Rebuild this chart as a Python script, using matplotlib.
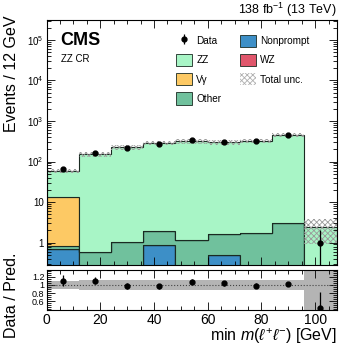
import numpy as np
import matplotlib
matplotlib.use("Agg")
import matplotlib.pyplot as plt
from matplotlib.patches import Patch
from matplotlib.ticker import MultipleLocator, LogLocator, NullFormatter

plt.rcParams["font.family"] = ["Liberation Sans", "DejaVu Sans"]
plt.rcParams["mathtext.fontset"] = "custom"
plt.rcParams["mathtext.rm"] = "Liberation Sans"
plt.rcParams["mathtext.it"] = "Liberation Sans:italic"
plt.rcParams["hatch.linewidth"] = 0.6

# binning (GeV)
edges = np.arange(0, 109, 12)

# observed events per bin
data = np.array([65, 165, 215, 275, 340, 308, 315, 460, 1])
data_err_up = np.array([8.6, 13.4, 15.2, 17.1, 19.0, 18.1, 18.3, 22.0, 1.0])
data_err_dn = np.array([8.1, 12.8, 14.6, 16.6, 18.4, 17.5, 17.7, 21.4, 1.0])

# predicted backgrounds (stacked, bottom to top)
nonprompt = np.array([0.68, 0, 0, 0.85, 0, 0.48, 0, 0, 0])
wz = np.array([0, 0, 0, 0, 0, 0, 0, 0, 0])
other = np.array([0.14, 0.57, 1.05, 1.07, 1.15, 1.12, 1.69, 2.98, 0])
vgamma = np.array([12.2, 0, 0, 0, 0, 0, 0, 0, 0])
zz = np.array([46, 149, 221, 281, 314, 294, 319, 444, 2.4])

# relative total uncertainty
rel_unc = np.array([0.11, 0.12, 0.12, 0.12, 0.12, 0.12, 0.12, 0.12, 0.62])

# ratio data/pred. and errors
ratio_vals = np.array([1.10, 1.10, 0.97, 0.97, 1.08, 1.04, 0.98, 1.03, 0.42])
ratio_err_up = np.array([0.14, 0.09, 0.07, 0.06, 0.06, 0.06, 0.06, 0.05, 0.40])
ratio_err_dn = np.array([0.13, 0.08, 0.07, 0.06, 0.06, 0.06, 0.06, 0.05, 0.02])

col_zz = "#a8f5c6"
col_vg = "#fdc964"
col_other = "#70c19d"
col_np = "#3d8fc7"
col_wz = "#e0566b"
edge = "#1a2a22"

centers = 0.5 * (edges[:-1] + edges[1:])

fig = plt.figure(figsize=(3.49, 3.52), dpi=100)
ax = fig.add_axes([0.1335, 0.2472, 0.8310, 0.6960])
rax = fig.add_axes([0.1335, 0.1190, 0.8310, 0.1140])

# stacked histogram
layers = [(nonprompt, col_np), (wz, col_wz), (other, col_other),
          (vgamma, col_vg), (zz, col_zz)]
base = np.full(len(zz), 1e-3)
for vals, c in layers:
    top = base + vals
    ax.stairs(top, edges, baseline=base, fill=True, facecolor=c,
              edgecolor="none")
    ax.stairs(top, edges, baseline=base, fill=False, edgecolor=edge,
              linewidth=0.8)
    base = top
pred = base

# uncertainty band
lo = pred * (1 - rel_unc)
hi = pred * (1 + rel_unc)
ax.stairs(hi, edges, baseline=lo, fill=True, facecolor="none",
          edgecolor="#9a9a9a", hatch="xxxxxx", linewidth=0)

data_handle = ax.errorbar(centers, data, yerr=[data_err_dn, data_err_up],
                          fmt="o", color="black", markersize=3.5,
                          elinewidth=0.9, capsize=0)

ax.set_yscale("log")
ax.set_xlim(0, 108)
ax.set_ylim(0.28, 3.1e5)
ax.yaxis.set_minor_locator(LogLocator(base=10, subs=np.arange(2, 10), numticks=20))
ax.yaxis.set_minor_formatter(NullFormatter())
ax.set_yticks([1, 10, 100, 1e3, 1e4, 1e5])
ax.set_yticklabels(["1", "10", "$10^2$", "$10^3$", "$10^4$", "$10^5$"])
ax.xaxis.set_major_locator(MultipleLocator(20))
ax.xaxis.set_minor_locator(MultipleLocator(5))
ax.tick_params(labelbottom=False)

for a in (ax, rax):
    a.tick_params(which="both", direction="in", top=True, right=True,
                  labelsize=7, pad=2)
    a.tick_params(which="major", length=6, width=0.6)
    a.tick_params(which="minor", length=3, width=0.6)
    for s in a.spines.values():
        s.set_linewidth(0.8)

# ratio panel
rax.stairs(1 + rel_unc, edges, baseline=1 - rel_unc, fill=True,
           facecolor="#b4b4b4", edgecolor="none")
rax.axhline(1.0, color="#444444", linestyle=":", linewidth=0.8)
rax.errorbar(centers, ratio_vals, yerr=[ratio_err_dn, ratio_err_up], fmt="o",
             color="black", markersize=3.5, elinewidth=0.9, capsize=0)
rax.set_xlim(0, 108)
rax.set_ylim(0.38, 1.37)
rax.set_yticks([0.6, 0.8, 1.0, 1.2])
rax.set_yticklabels(["0.6", "0.8", "1", "1.2"])
rax.yaxis.set_minor_locator(MultipleLocator(0.05))
rax.xaxis.set_major_locator(MultipleLocator(20))
rax.xaxis.set_minor_locator(MultipleLocator(5))
rax.tick_params(axis="y", labelsize=6.5, pad=1.5)
rax.tick_params(axis="x", labelsize=10, pad=2)

# labels
fig.text(0.034, 0.955, "Events / 12 GeV", rotation=90, ha="center",
         va="top", fontsize=11.5)
fig.text(0.034, 0.282, "Data / Pred.", rotation=90, ha="center",
         va="top", fontsize=11.5)
fig.text(0.965, 0.045, r"min $m(\ell^{+}\ell^{-})$ [GeV]", ha="right",
         va="center", fontsize=11.5)
fig.text(0.965, 0.972, r"138 fb$^{-1}$ (13 TeV)", ha="right",
         va="center", fontsize=9)
ax.text(0.048, 0.915, "CMS", transform=ax.transAxes, fontsize=13,
        fontweight="bold", va="center", ha="left")
ax.text(0.048, 0.84, "ZZ CR", transform=ax.transAxes, fontsize=7,
        va="center", ha="left")

# legend
handles = [
    data_handle,
    Patch(facecolor=col_zz, edgecolor=edge, linewidth=0.6),
    Patch(facecolor=col_vg, edgecolor=edge, linewidth=0.6),
    Patch(facecolor=col_other, edgecolor=edge, linewidth=0.6),
    Patch(facecolor=col_np, edgecolor=edge, linewidth=0.6),
    Patch(facecolor=col_wz, edgecolor=edge, linewidth=0.6),
    Patch(facecolor="white", edgecolor="#b0b0b0", hatch="xxxxxx", linewidth=0),
]
labels = ["Data", "ZZ", "V\u03b3", "Other", "Nonprompt", "WZ", "Total unc."]
ax.legend(handles, labels, ncol=2, loc="upper left",
          bbox_to_anchor=(0.43, 0.96), frameon=False, fontsize=7.2,
          handlelength=1.6, handleheight=1.5, handletextpad=0.4,
          columnspacing=1.9, labelspacing=0.7, borderpad=0)

fig.savefig("out.png", dpi=100)
